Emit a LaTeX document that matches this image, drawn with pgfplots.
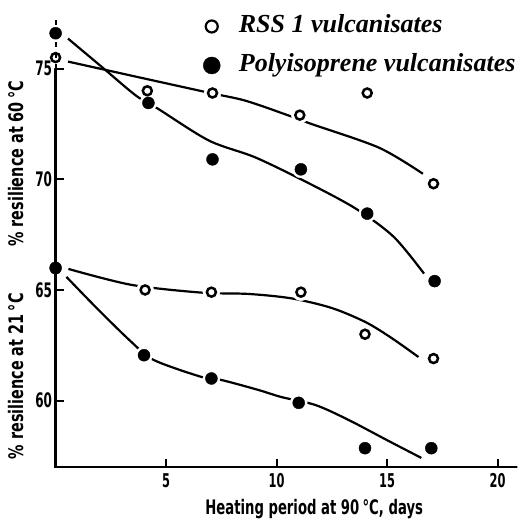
\documentclass[border=0pt]{standalone}
\usepackage{fontspec}
\setmainfont{Liberation Serif}
\newfontfamily\condfont[FakeStretch=0.72]{DejaVu Sans}
\newfontfamily\tickfont[FakeStretch=0.6]{DejaVu Sans}
\newfontfamily\xlabfont[FakeStretch=0.66]{DejaVu Sans}
\usepackage{pgfplots}
\usepackage{pgfplotstable}
\pgfplotsset{compat=1.18}

\pgfplotstableread{
x y
0 75.5
4.15 74.0
7.1 73.9
11.05 72.9
14.1 73.9
17.1 69.8
}\rssHot
\pgfplotstableread{
x y
0 76.6
4.2 73.45
7.1 70.9
11.1 70.45
14.1 68.45
17.15 65.4
}\polyHot
\pgfplotstableread{
x y
0 65.95
4.05 65.0
7.05 64.9
11.1 64.9
14.0 63.0
17.1 61.9
}\rssCold
\pgfplotstableread{
x y
0 66.0
4.0 62.05
7.05 61.0
11.0 59.9
14.0 57.85
17.0 57.85
}\polyCold

\begin{document}
\begin{tikzpicture}
\path[use as bounding box] (-55.6pt,-54pt) rectangle (461.4pt,467pt);
\begin{axis}[
  x=22.1pt, y=22.13pt,
  xmin=0, xmax=20.86, ymin=57, ymax=78.1,
  axis lines=left,
  axis line style={draw=none},
  clip=false,
  xtick={5,10,15,20}, ytick={60,65,70,75},
  tick align=inside,
  major tick length=8pt,
  tick style={line width=2pt, black},
  /pgf/number format/assume math mode=true,
  xticklabel style={font=\tickfont\bfseries\fontsize{19}{19}\selectfont, yshift=-3pt},
  yticklabel style={font=\tickfont\bfseries\fontsize{20}{20}\selectfont, xshift=0pt},
  legend style={at={(axis cs:6.6,77.57)}, anchor=north west, draw=none, fill=none,
    font=\bfseries\itshape\fontsize{26}{28}\selectfont, row sep=10pt, inner sep=0pt,
    nodes={inner sep=2pt, text height=19pt, text depth=6pt}},
  legend cell align=left,
  legend image code/.code={\draw[#1] plot coordinates {(0pt,0pt)}; \path (-9pt,0pt) (24pt,0pt);},
]
% fitted curves
\addplot[black, line width=2.2pt, smooth, forget plot] coordinates {
(0.56,75.32) (3.63,74.64) (6.9,73.92) (8.6,73.55) (10.55,72.88) (11.55,72.51) (14.63,71.43) (16.62,70.25)};
\addplot[black, line width=2.2pt, smooth, forget plot] coordinates {
(0.56,76.36) (2.1,75.07) (3.64,73.78) (4.63,73.19) (6.94,71.75) (9.06,70.98) (11.5,69.8) (13.59,68.67) (15.3,67.4) (16.67,65.74)};
\addplot[black, line width=2.2pt, smooth, forget plot] coordinates {
(0.58,65.95) (3.43,65.23) (6.6,64.88) (8.73,64.82) (10.67,64.62) (12.48,64.19) (14.02,63.55) (15.2,62.83) (16.42,61.97)};
\addplot[black, line width=2.2pt, smooth, forget plot] coordinates {
(0.49,65.59) (1.94,64.1) (3.43,62.65) (4.43,61.84) (6.6,61.07) (7.51,60.93) (9.18,60.48) (10.22,60.16) (11.76,59.8) (13.25,59.13) (15.06,58.18) (16.55,57.41)};
% white halos round markers
\addplot[only marks, mark=*, mark size=8.5pt, white, restrict x to domain=0.5:21, forget plot] table {\rssHot};
\addplot[only marks, mark=*, mark size=8.5pt, white, restrict x to domain=0.5:21, forget plot] table {\polyHot};
\addplot[only marks, mark=*, mark size=8.5pt, white, restrict x to domain=0.5:21, forget plot] table {\rssCold};
\addplot[only marks, mark=*, mark size=8.5pt, white, restrict x to domain=0.5:21, forget plot] table {\polyCold};
% axis lines
\draw[line width=2.4pt, line cap=round] (axis cs:0,75) -- (axis cs:0,57) -- (axis cs:20.86,57);
\draw[line width=2pt, dash pattern=on 5pt off 6pt] (axis cs:0,75) -- (axis cs:0,77.4);
% markers
\addplot[only marks, mark=o, mark size=4.5pt, line width=2.5pt, black, mark options={fill=white}, forget plot] table {\rssHot};
\addplot[only marks, mark=o, mark size=4.5pt, line width=2.5pt, black, mark options={fill=white}, forget plot] table {\rssCold};
\addplot[only marks, mark=*, mark size=6pt, black, forget plot] table {\polyHot};
\addplot[only marks, mark=*, mark size=6pt, black, forget plot] table {\polyCold};
% legend
\addlegendimage{only marks, mark=o, mark size=6pt, line width=2.2pt, black}
\addlegendentry{RSS 1 vulcanisates}
\addlegendimage{only marks, mark=*, mark size=8.5pt, black}
\addlegendentry{Polyisoprene vulcanisates}
% labels
\node[rotate=90, font=\condfont\bfseries\fontsize{20}{20}\selectfont] at ([xshift=-40pt]axis cs:0,70.7) {\% resilience at 60\,°C};
\node[rotate=90, font=\condfont\bfseries\fontsize{20}{20}\selectfont] at ([xshift=-40pt]axis cs:0,61.1) {\% resilience at 21\,°C};
\node[font=\xlabfont\bfseries\fontsize{20}{20}\selectfont] at ([yshift=-42pt]axis cs:11.7,57) {Heating period at 90\,°C, days};
\end{axis}
\end{tikzpicture}
\end{document}
